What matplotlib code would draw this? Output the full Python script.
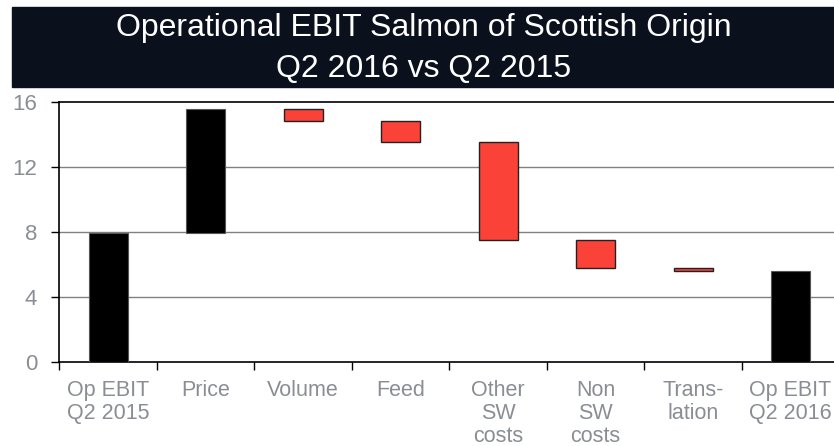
import numpy as np
import matplotlib
matplotlib.use("Agg")
from matplotlib import pyplot as plt
from matplotlib.patches import Rectangle

plt.rcParams["font.family"] = ["Liberation Sans", "DejaVu Sans"]

categories = ["Op EBIT\nQ2 2015", "Price", "Volume", "Feed", "Other\nSW\ncosts",
              "Non\nSW\ncosts", "Trans-\nlation", "Op EBIT\nQ2 2016"]
start_value = 7.95
changes = [7.65, -0.77, -1.25, -6.05, -1.75, -0.18]
title_lines = ["Operational EBIT Salmon of Scottish Origin", "Q2 2016 vs Q2 2015"]
yticks = [0, 4, 8, 12, 16]

# waterfall bottoms / heights
levels = np.concatenate([[start_value], start_value + np.cumsum(changes)])
end_value = levels[-1]
bottoms = [0] + [min(levels[i], levels[i + 1]) for i in range(len(changes))] + [0]
heights = [start_value] + [abs(c) for c in changes] + [end_value]
kinds = ["total"] + ["up" if c > 0 else "down" for c in changes] + ["total"]

gray = "#8a8e94"
fig = plt.figure(figsize=(8.34, 4.46), dpi=100)

# dark title banner
fig.patches.append(Rectangle((12 / 834, 1 - 87 / 446), 1 - 12 / 834, 80 / 446,
                             transform=fig.transFigure, color="#0a111c", zorder=0))
fig.text(424 / 834, 1 - 28 / 446, title_lines[0], color="white", fontsize=23,
         ha="center", va="center")
fig.text(424 / 834, 1 - 69 / 446, title_lines[1], color="white", fontsize=23,
         ha="center", va="center")

ax = fig.add_axes([59.3 / 834, 84.3 / 446, 780 / 834, 259.4 / 446])
x = np.arange(len(categories)) + 0.5
for xi, b, h, k in zip(x, bottoms, heights, kinds):
    if k == "down":
        ax.bar(xi, h, bottom=b, width=0.4, color="#fa4239", edgecolor="#222222",
               linewidth=1.0, zorder=3)
    else:
        ax.bar(xi, h, bottom=b, width=0.4, color="black", edgecolor="#555555",
               linewidth=0.8, zorder=3)

ax.set_xlim(0, len(categories))
ax.set_ylim(0, 16)
ax.set_yticks(yticks)
ax.set_yticklabels([str(t) for t in yticks])
for t in yticks[1:-1]:
    ax.axhline(t, color="#808080", linewidth=1.0, zorder=1)

ax.set_xticks(np.arange(len(categories) + 1))
ax.set_xticklabels([])
ax.set_xticks(x, minor=True)
ax.set_xticklabels(categories, minor=True, color=gray, fontsize=15.5, linespacing=1.12,
                   va="top")
ax.tick_params(axis="x", which="minor", length=0, pad=13)
ax.tick_params(axis="x", which="major", direction="out", length=6, width=1, color="black")
ax.tick_params(axis="y", direction="out", length=6, width=1, color="black",
               labelcolor=gray, labelsize=16, pad=10)

ax.spines["right"].set_visible(False)
for s in ["left", "bottom", "top"]:
    ax.spines[s].set_color("black")
    ax.spines[s].set_linewidth(1.2)

plt.savefig("out.png", dpi=100)
